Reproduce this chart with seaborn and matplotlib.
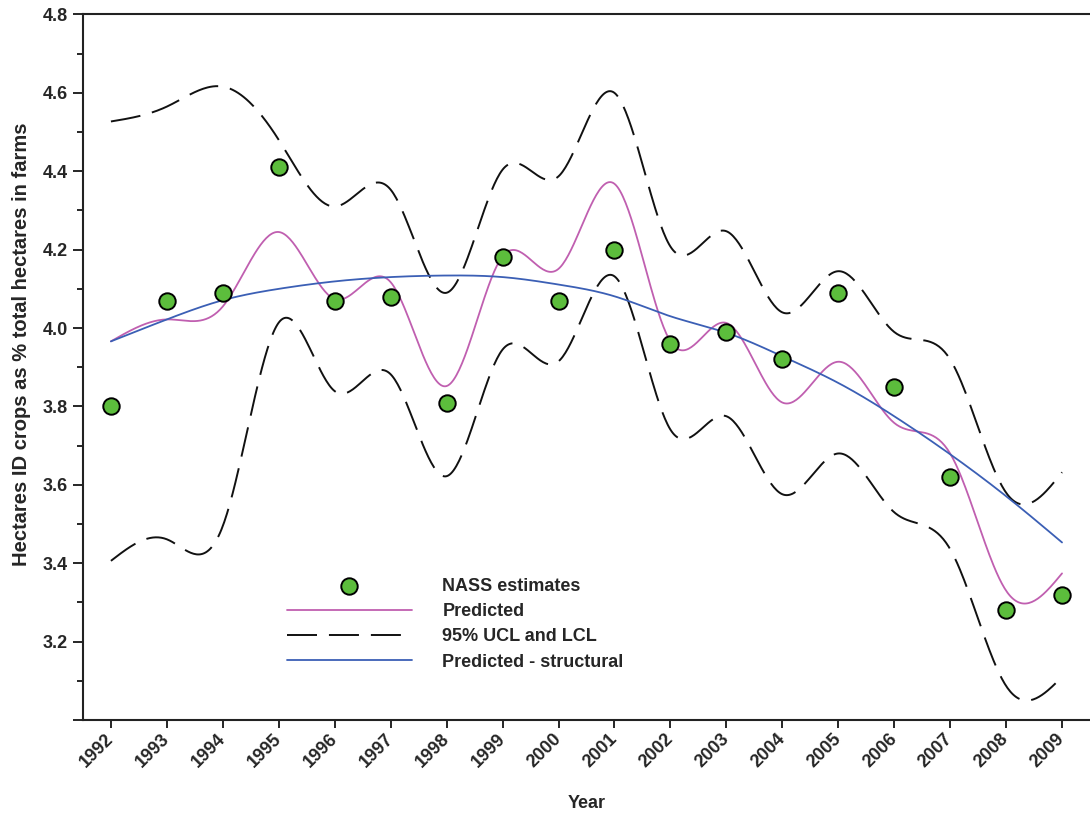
import numpy as np
import pandas as pd
import matplotlib
matplotlib.use("Agg")
import matplotlib.pyplot as plt
import seaborn as sns

# ---- data ----
years = [1992, 1993, 1994, 1995, 1996, 1997, 1998, 1999, 2000,
         2001, 2002, 2003, 2004, 2005, 2006, 2007, 2008, 2009]
nass = [3.80, 4.07, 4.09, 4.41, 4.07, 4.08, 3.81, 4.18, 4.07,
        4.20, 3.96, 3.99, 3.92, 4.09, 3.85, 3.62, 3.28, 3.32]
predicted = [3.966, 4.022, 4.055, 4.245, 4.074, 4.117, 3.852, 4.183, 4.151,
             4.368, 3.966, 4.013, 3.810, 3.914, 3.758, 3.680, 3.330, 3.374]
ucl = [4.527, 4.565, 4.616, 4.480, 4.310, 4.353, 4.090, 4.404, 4.387,
       4.600, 4.208, 4.247, 4.040, 4.145, 3.990, 3.920, 3.580, 3.632]
lcl = [3.406, 3.461, 3.495, 4.014, 3.839, 3.882, 3.622, 3.945, 3.915,
       4.132, 3.741, 3.775, 3.576, 3.680, 3.530, 3.436, 3.087, 3.110]
structural = [3.966, 4.022, 4.071, 4.100, 4.119, 4.130, 4.134, 4.130, 4.111,
              4.081, 4.030, 3.988, 3.928, 3.860, 3.775, 3.678, 3.571, 3.453]
ytick_vals = [3.0, 3.2, 3.4, 3.6, 3.8, 4.0, 4.2, 4.4, 4.6, 4.8]
ytick_labels = ["", "3.2", "3.4", "3.6", "3.8", "4.0", "4.2", "4.4", "4.6", "4.8"]


def natural_spline(x, y, n=40):
    """Natural cubic spline through (x, y) for a smooth curve style."""
    x = np.asarray(x, float)
    y = np.asarray(y, float)
    k = len(x)
    h = np.diff(x)
    A = np.zeros((k, k))
    b = np.zeros(k)
    A[0, 0] = A[-1, -1] = 1.0
    for i in range(1, k - 1):
        A[i, i - 1] = h[i - 1]
        A[i, i] = 2 * (h[i - 1] + h[i])
        A[i, i + 1] = h[i]
        b[i] = 3 * ((y[i + 1] - y[i]) / h[i] - (y[i] - y[i - 1]) / h[i - 1])
    c = np.linalg.solve(A, b)
    xs, ys = [], []
    for i in range(k - 1):
        t = np.linspace(0, h[i], n, endpoint=(i == k - 2))
        bi = (y[i + 1] - y[i]) / h[i] - h[i] * (2 * c[i] + c[i + 1]) / 3
        di = (c[i + 1] - c[i]) / (3 * h[i])
        xs.append(x[i] + t)
        ys.append(y[i] + bi * t + c[i] * t ** 2 + di * t ** 3)
    return np.concatenate(xs), np.concatenate(ys)


sns.set_style("ticks")
plt.rcParams["font.family"] = ["Liberation Sans", "DejaVu Sans"]
plt.rcParams["font.weight"] = "bold"
plt.rcParams["lines.scale_dashes"] = False

FS = 13

fig = plt.figure(figsize=(10.90, 8.13), dpi=100)
ax = fig.add_axes([0.0761, 0.1144, 0.9239, 0.8678])

pink = "#c05fb0"
blue = "#3b5fb5"
green = "#5cbd3c"

def smooth_frame(vals):
    sx, sy = natural_spline(years, vals)
    return pd.DataFrame({"year": sx, "value": sy})

sns.lineplot(data=smooth_frame(predicted), x="year", y="value", ax=ax,
             color=pink, linewidth=1.3, label="Predicted", sort=False)
sns.lineplot(data=smooth_frame(ucl), x="year", y="value", ax=ax,
             color="#111111", linewidth=1.4, label="95% UCL and LCL", sort=False)
sns.lineplot(data=smooth_frame(lcl), x="year", y="value", ax=ax,
             color="#111111", linewidth=1.4, label="_lcl", sort=False)
sns.lineplot(data=smooth_frame(structural), x="year", y="value", ax=ax,
             color=blue, linewidth=1.3, label="Predicted - structural", sort=False)
for ln in ax.lines[1:3]:
    ln.set_dashes((21.6, 8.6))

pts = pd.DataFrame({"year": years, "value": nass})
sns.scatterplot(data=pts, x="year", y="value", ax=ax, s=140, color=green,
                edgecolor="black", linewidth=1.4, zorder=5,
                label="NASS estimates")

ax.set_xlim(1991.5, 2009.5)
ax.set_ylim(3.0, 4.8)
ax.set_xticks(years)
ax.set_xticklabels([str(y) for y in years], rotation=45, ha="right",
                   va="center", rotation_mode="anchor", fontsize=FS,
                   fontweight="bold")
ax.set_yticks(ytick_vals)
ax.set_yticklabels(ytick_labels, fontsize=FS, fontweight="bold")
ax.set_yticks(np.arange(3.1, 4.8, 0.2), minor=True)
ax.tick_params(axis="y", which="major", length=7, width=1.4, pad=4)
ax.tick_params(axis="y", which="minor", length=4, width=1.4)
ax.tick_params(axis="x", which="major", length=6, width=1.4, pad=6)

for side in ["left", "bottom", "top"]:
    ax.spines[side].set_linewidth(1.5)
    ax.spines[side].set_color("#222222")
ax.spines["right"].set_visible(False)

ax.set_xlabel("Year", fontsize=FS, fontweight="bold", labelpad=17)
ax.set_ylabel("Hectares ID crops as % total hectares in farms", fontsize=14.5,
              fontweight="bold")
ax.yaxis.set_label_coords(-0.052, 0.532)

handles, labels = ax.get_legend_handles_labels()
order = ["NASS estimates", "Predicted", "95% UCL and LCL", "Predicted - structural"]
hmap = dict(zip(labels, handles))
leg = ax.legend([hmap[k] for k in order], order, loc="upper left",
                bbox_to_anchor=(0.2026, 0.201), frameon=False, borderpad=0,
                borderaxespad=0, handlelength=6.9, handletextpad=1.7,
                labelspacing=0.45, prop={"size": FS, "weight": "bold"})

fig.savefig("out.png", dpi=100)
